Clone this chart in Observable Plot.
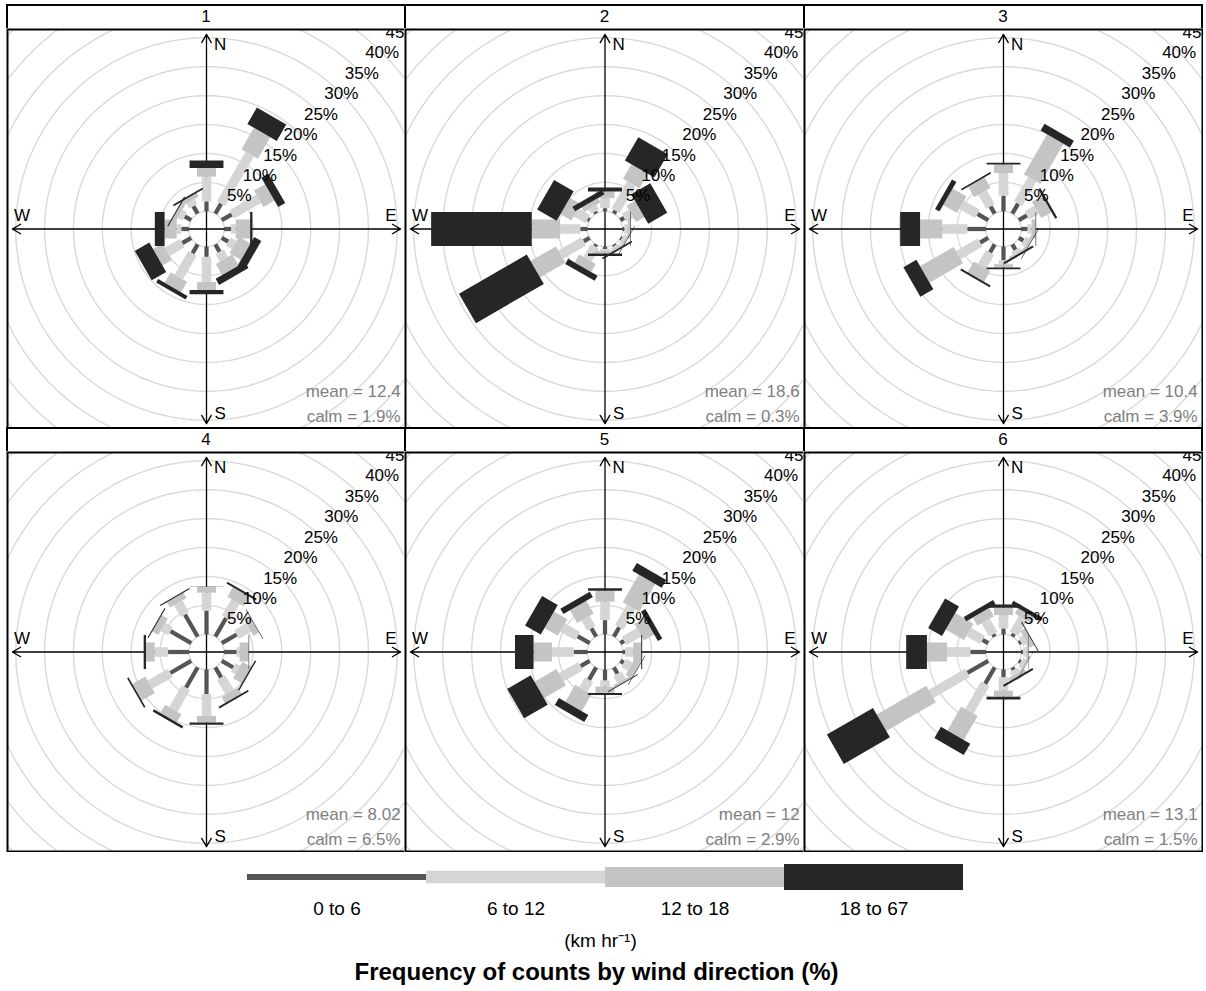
<!DOCTYPE html>
<html><head><meta charset="utf-8">
<script src="https://cdn.jsdelivr.net/npm/d3@7"></script>
<script src="https://cdn.jsdelivr.net/npm/@observablehq/plot@0.6"></script>
<style>
html,body{margin:0;padding:0;background:#fff;}
#root{position:relative;width:1206px;height:991px;overflow:hidden;font-family:"Liberation Sans",Arial,sans-serif;}
.strip{position:absolute;box-sizing:border-box;border:2px solid #000;background:#fff;text-align:center;font-size:17px;color:#000;}
.pane{position:absolute;}
</style></head><body><div id="root"></div>
<script>
// ---------- data ----------
const panelNames = ["1", "2", "3", "4", "5", "6"];
const directions = [0, 30, 60, 90, 120, 150, 180, 210, 240, 270, 300, 330];
const speedBins = ["0 to 6", "6 to 12", "12 to 18", "18 to 67"];
const meanLabels = ["12.4", "18.6", "10.4", "8.02", "12", "13.1"];
const calmLabels = ["1.9%", "0.3%", "3.9%", "6.5%", "2.9%", "1.5%"];
// frequency (%) by direction, per speed bin [0-6, 6-12, 12-18, 18-67]
const panel1 = [
  [1.7, 4.3, 1.5, 1.3], [2.0, 9.9, 4.3, 3.3], [2.0, 5.4, 2.2, 1.4], [1.2, 0.8, 2.5, 0.4],
  [1.3, 1.2, 2.3, 1.4], [1.5, 1.5, 2.2, 1.2], [1.75, 4.35, 1.4, 0.7], [1.8, 4.7, 2.1, 0.7],
  [1.8, 3.0, 1.9, 2.9], [1.3, 0.8, 2.1, 1.7], [1.3, 0.9, 0.7, 0.2], [1.5, 1.0, 0.7, 0.3]
];
const panel2 = [
  [0.54, 1.74, 1.15, 0.7], [0.6, 5.4, 2.9, 4.65], [0.77, 1.4, 1.7, 3.8], [0.3, 0.6, 0.4, 0.1],
  [0.3, 0.5, 0.3, 0.1], [0.3, 0.4, 0.3, 0.3], [0.4, 0.37, 0.4, 0.46], [0.4, 2.6, 1.6, 1.0],
  [1.2, 4.6, 5.05, 13.55], [1.2, 3.5, 4.9, 17.4], [0.4, 2.3, 2.2, 3.9], [0.4, 0.9, 0.9, 0.9]
];
const panel3 = [
  [2.7, 3.9, 1.5, 0.3], [2.0, 4.85, 8.05, 1.35], [1.65, 1.9, 2.05, 0.4], [1.1, 0.7, 0.7, 0.1],
  [0.94, 0.7, 0.5, 0.1], [1.1, 0.5, 0.35, 0.35], [2.33, 0.7, 0.57, 0.3], [1.63, 2.77, 2.1, 0.35],
  [1.63, 4.35, 6.7, 2.6], [3.2, 4.35, 3.85, 3.45], [2.16, 3.13, 2.78, 0.87], [1.46, 2.78, 2.09, 0.27]
];
const panel4 = [
  [4.07, 3.13, 1.05, 0.05], [3.73, 3.3, 1.91, 0.35], [3.0, 2.4, 1.1, 0.1], [2.16, 0.52, 1.56, 0.09],
  [2.3, 0.9, 1.74, 0.26], [2.05, 2.98, 1.17, 0.3], [4.2, 3.78, 1.13, 0.39], [4.07, 4.35, 1.65, 0.43],
  [4.19, 4.05, 2.6, 0.3], [3.6, 2.33, 1.5, 0.4], [4.16, 1.48, 1.21, 0.18], [4.42, 2.35, 1.03, 0.2]
];
const panel5 = [
  [2.45, 3.18, 1.92, 0.4], [1.88, 4.03, 5.55, 1.57], [0.77, 2.99, 2.05, 0.87], [0.42, 1.39, 1.39, 0.17],
  [0.7, 1.3, 1.2, 0.1], [1.29, 1.39, 0.38, 0.18], [1.86, 1.08, 1.09, 0.35], [2.5, 1.92, 3.39, 1.39],
  [1.81, 3.88, 4.38, 4.7], [2.33, 3.77, 3.19, 3.21], [2.42, 2.99, 2.66, 3.13], [1.67, 2.02, 2.55, 1.05]
];
const panel6 = [
  [1.0, 2.32, 1.28, 0.57], [0.59, 3.1, 1.08, 0.69], [0.42, 0.87, 0.87, 0.17], [0.33, 0.61, 0.35, 0.06],
  [0.4, 0.6, 0.4, 0.05], [0.5, 0.8, 0.55, 0.35], [1.29, 2.34, 1.05, 0.47], [3.3, 5.47, 4.78, 2.26],
  [4.17, 7.26, 9.94, 9.22], [2.68, 4.05, 3.48, 3.6], [1.15, 2.75, 3.65, 2.78], [0.52, 2.59, 1.66, 0.86]
];
const panelData = [panel1, panel2, panel3, panel4, panel5, panel6];

// ---------- styles / geometry ----------
const binColors = ["#555555", "#d5d5d5", "#c4c4c4", "#262626"];
const FONT = "'Liberation Sans', Arial, sans-serif";
const colLines = [7, 405, 804, 1202];
const rowLines = [[5, 29, 428], [428, 452, 851]]; // strip top, panel top, panel bottom

const maxFreq = d3.max(panelData.flat(), b => d3.sum(b));
const offSet = maxFreq * 0.10;
const upper = maxFreq + offSet;
const lim = upper * 1.025;
const gridStep = 5;
const halfWidths = [0.002, 0.004535, 0.008954, 0.016].map(v => v * maxFreq * 6);

function polygons(freq) {
  const out = [[], [], [], []];
  freq.forEach((bins, i) => {
    const th = directions[i] * Math.PI / 180;
    const ux = Math.sin(th), uy = Math.cos(th), px = Math.cos(th), py = -Math.sin(th);
    let cum = 0;
    bins.forEach((f, j) => {
      const l1 = cum + offSet, l2 = cum + f + offSet;
      cum += f;
      const w = halfWidths[j];
      const id = i + "-" + j;
      [[l1, w], [l1, -w], [l2, -w], [l2, w], [l1, w]].forEach(([l, s]) =>
        out[j].push({id, x: l * ux + s * px, y: l * uy + s * py}));
    });
  });
  return out;
}

const circlePts = [];
for (let k = 0; k <= 11; k++) {
  const r = offSet + k * gridStep;
  for (let a = 0; a <= 360; a += 2) {
    const t = a * Math.PI / 180;
    circlePts.push({r, x: r * Math.sin(t), y: r * Math.cos(t)});
  }
}
const pctLabels = d3.range(1, 10).map(k => {
  const r = k * gridStep + offSet;
  return {x: r * Math.SQRT1_2, y: r * Math.SQRT1_2, t: (k * gridStep) + "%"};
});
const axesArrows = [
  {x2: upper, y2: 0}, {x2: -upper, y2: 0}, {x2: 0, y2: upper}, {x2: 0, y2: -upper}
].map(d => ({x1: 0, y1: 0, ...d}));
const compass = [
  {x: 0.07 * upper, y: 0.95 * upper, t: "N"},
  {x: 0.07 * upper, y: -0.95 * upper, t: "S"},
  {x: -0.95 * upper, y: 0.07 * upper, t: "W"},
  {x: 0.95 * upper, y: 0.07 * upper, t: "E"}
];

const root = document.getElementById("root");
panelData.forEach((freq, p) => {
  const c = p % 3, rr = Math.floor(p / 3);
  const [sTop, pTop, pBot] = rowLines[rr];
  const x0 = colLines[c], x1 = colLines[c + 1];
  const w = x1 - x0, h = pBot - pTop;

  const strip = document.createElement("div");
  strip.className = "strip";
  strip.style.left = (x0 - 1) + "px";
  strip.style.top = (sTop - 1) + "px";
  strip.style.width = (w + 2) + "px";
  strip.style.height = (pTop - sTop + 2) + "px";
  strip.style.lineHeight = (pTop - sTop - 2) + "px";
  strip.textContent = panelNames[p];
  root.appendChild(strip);

  const polys = polygons(freq);
  const chart = Plot.plot({
    width: w + 2, height: h + 2,
    marginTop: 1, marginRight: 1, marginBottom: 1, marginLeft: 1,
    x: {domain: [-lim, lim], axis: null},
    y: {domain: [-lim, lim], axis: null},
    style: {fontFamily: FONT, fontSize: "17px", background: "white", color: "#000"},
    marks: [
      Plot.line(circlePts, {x: "x", y: "y", z: "r", stroke: "#d9d9d9", strokeWidth: 1.4, clip: true}),
      Plot.arrow(axesArrows, {x1: "x1", y1: "y1", x2: "x2", y2: "y2", stroke: "#000", strokeWidth: 1.3, headLength: 11, headAngle: 60}),
      Plot.text(compass, {x: "x", y: "y", text: "t", fontSize: 17, fill: "#000"}),
      ...polys.map((pts, j) => Plot.line(pts, {x: "x", y: "y", z: "id", fill: binColors[j], stroke: "none", clip: true})),
      Plot.text(pctLabels, {x: "x", y: "y", text: "t", fontSize: 17, fill: "#000", clip: true}),
      Plot.text(["mean = " + meanLabels[p]], {x: () => upper, y: () => -upper, text: d => d, textAnchor: "end", lineAnchor: "bottom", dy: -27, fontSize: 17, fill: "#7f7f7f"}),
      Plot.text(["calm = " + calmLabels[p]], {x: () => upper, y: () => -upper, text: d => d, textAnchor: "end", lineAnchor: "bottom", dy: -2, fontSize: 17, fill: "#7f7f7f"}),
      Plot.frame({stroke: "#000", strokeWidth: 2})
    ]
  });
  chart.classList.add("pane");
  chart.style.left = (x0 - 1) + "px";
  chart.style.top = (pTop - 1) + "px";
  root.appendChild(chart);
});

// ---------- legend ----------
const legendThick = [6, 12.6, 20, 26];
const legendRows = speedBins.map((b, i) => ({b, y1: 19 - legendThick[i] / 2, y2: 19 + legendThick[i] / 2, col: binColors[i]}));
const legend = Plot.plot({
  width: 1206, height: 133,
  margin: 0,
  x: {type: "band", domain: speedBins, range: [246, 963], padding: 0, axis: null},
  y: {domain: [0, 133], range: [0, 133], axis: null},
  style: {fontFamily: FONT, background: "white", color: "#000"},
  marks: [
    Plot.barY(legendRows, {x: "b", y1: "y1", y2: "y2", fill: "col", inset: 0}),
    Plot.text(speedBins, {x: d => d, y: () => 50, text: d => d, fontSize: 19, fill: "#000"}),
    Plot.text(["(km hr\u207B\u00B9)"], {frameAnchor: "top", lineAnchor: "middle", dy: 82, dx: -3, text: d => d, fontSize: 19, fill: "#000"}),
    Plot.text(["Frequency of counts by wind direction (%)"], {frameAnchor: "top", lineAnchor: "middle", dy: 114, dx: -7, text: d => d, fontSize: 24, fontWeight: "bold", fill: "#000"})
  ]
});
legend.classList.add("pane");
legend.style.left = "0px";
legend.style.top = "858px";
root.appendChild(legend);
</script></body></html>
